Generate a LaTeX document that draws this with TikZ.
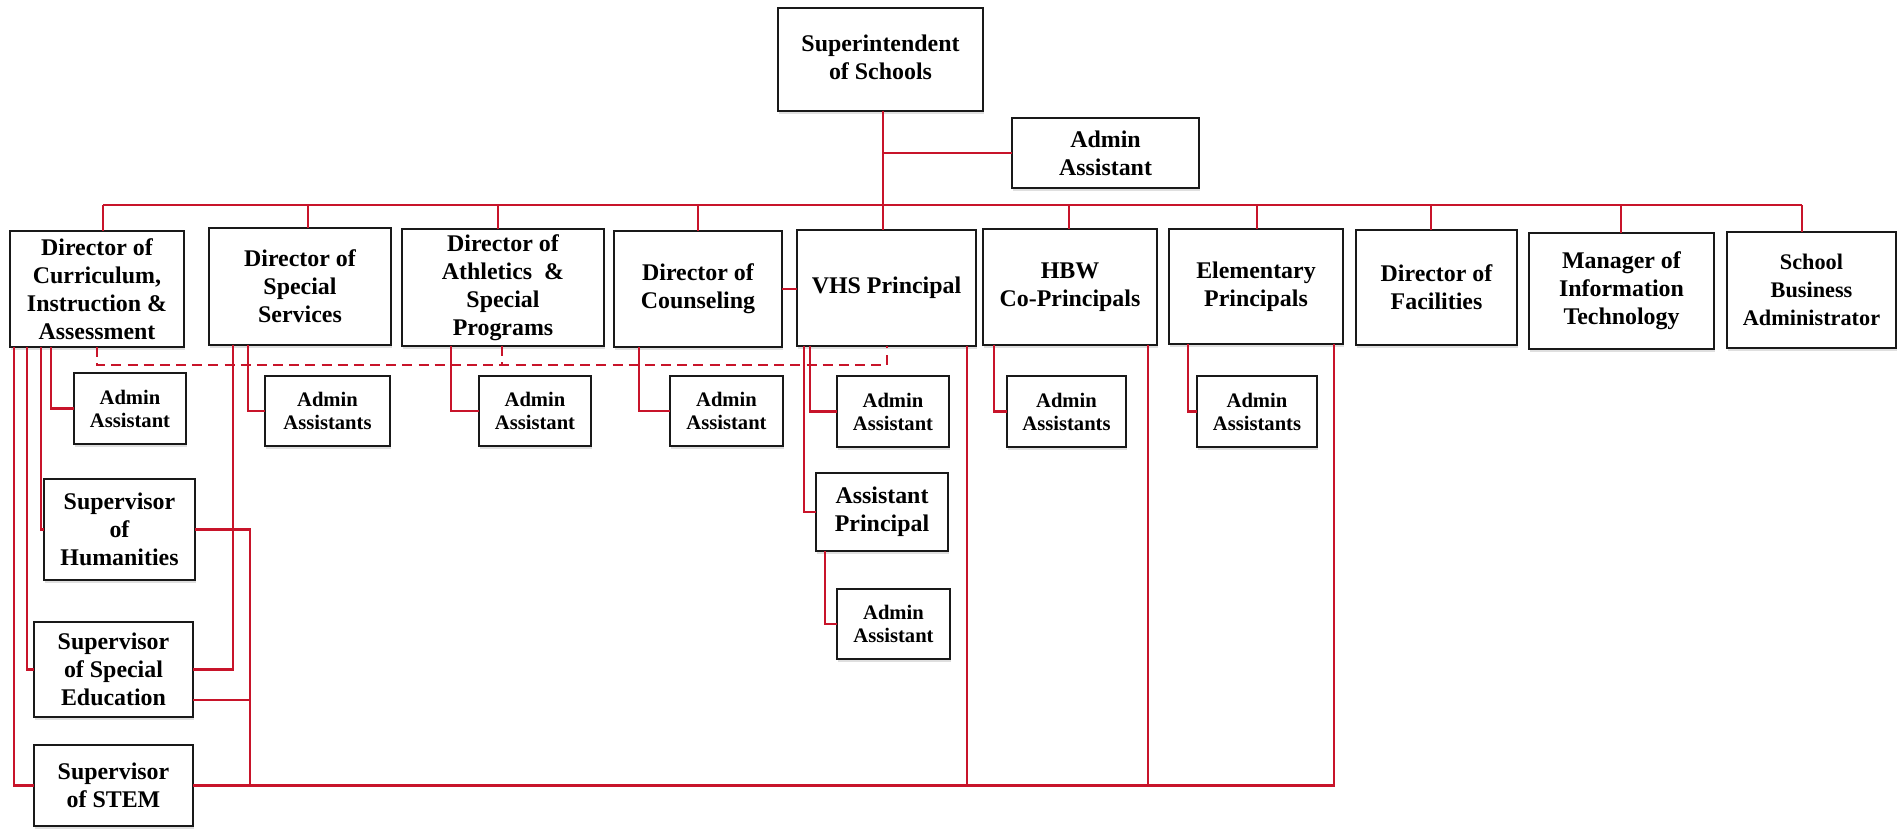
\documentclass[tikz,border=0pt]{standalone}
\usepackage{fontspec}
\setmainfont{Liberation Serif}
\usetikzlibrary{shadows}

\definecolor{orgred}{RGB}{200,20,42}

% box from its top-left corner (#3,#4) to its bottom-right corner (#5,#6)
\newcommand{\orgbox}[7]{%
  \node[#1, anchor=north west,
        minimum width={(#5-#3)*0.015cm},
        minimum height={(#6-#4)*0.015cm}] (#2) at (#3,#4) {#7};}

\tikzset{
  box/.style={draw=black!90, line width=1.1pt, fill=white, align=center,
    inner sep=1pt, outer sep=0pt,
    font=\bfseries\fontsize{10.2}{12}\selectfont,
    drop shadow={opacity=0.25, shadow xshift=0.4pt, shadow yshift=-1.1pt}},
  adminbox/.style={box, font=\bfseries\fontsize{8.8}{9.8}\selectfont},
  link/.style={draw=orgred, line width=1pt},
  duty/.style={link, dash pattern=on 4.3pt off 2.6pt},
}

\begin{document}
\begin{tikzpicture}[x=0.015cm, y=-0.015cm]
\useasboundingbox (0,0) rectangle (1898,828);

% --- top ---
\orgbox{box}{sup}{778}{8}{983}{111}{\raisebox{3pt}{\begin{tabular}{@{}c@{}}Superintendent\\of Schools\end{tabular}}}
\orgbox{box}{topadm}{1012}{118}{1199}{188}{Admin\\Assistant}

% --- directors and principals ---
\orgbox{box}{dcia}{10}{231}{184}{347}{Director of\\Curriculum,\\Instruction \&\\Assessment}
\orgbox{box}{specserv}{209}{228}{391}{345}{Director of\\Special\\Services}
\orgbox{box}{athl}{402}{229}{604}{346}{Director of\\Athletics\ \ \&\\Special\\Programs}
\orgbox{box}{couns}{614}{231}{782}{347}{Director of\\Counseling}
\orgbox{box}{vhs}{797}{230}{976}{346}{VHS Principal}
\orgbox{box}{hbw}{983}{229}{1157}{345}{HBW\\Co-Principals}
\orgbox{box}{elem}{1169}{229}{1343}{344}{Elementary\\Principals}
\orgbox{box}{facil}{1356}{230}{1517}{345}{Director of\\Facilities}
\orgbox{box}{mit}{1529}{233}{1714}{349}{Manager of\\Information\\Technology}
\orgbox{box, font=\bfseries\fontsize{9.5}{12}\selectfont}{sba}{1727}{232}{1896}{348}{School\\Business\\Administrator}

% --- assistants ---
\orgbox{adminbox}{dciaadm}{74}{373}{186}{444}{Admin\\Assistant}
\orgbox{adminbox}{ssadm}{265}{376}{390}{446}{Admin\\Assistants}
\orgbox{adminbox}{athadm}{479}{376}{591}{446}{Admin\\Assistant}
\orgbox{adminbox}{counsadm}{670}{376}{783}{446}{Admin\\Assistant}
\orgbox{adminbox}{vhsadm}{837}{376}{949}{447}{Admin\\Assistant}
\orgbox{adminbox}{hbwadm}{1007}{376}{1126}{447}{Admin\\Assistants}
\orgbox{adminbox}{elemadm}{1197}{376}{1317}{447}{Admin\\Assistants}
\orgbox{box}{ap}{816}{473}{948}{551}{Assistant\\Principal}
\orgbox{adminbox}{apadm}{837}{589}{950}{659}{Admin\\Assistant}

% --- supervisors ---
\orgbox{box}{hum}{44}{479}{195}{580}{Supervisor\\of\\Humanities}
\orgbox{box}{sped}{34}{622}{193}{717}{Supervisor\\of Special\\Education}
\orgbox{box}{stem}{34}{745}{193}{826}{Supervisor\\of STEM}

% --- superintendent line and bus ---
\coordinate (busL) at (103,205);
\coordinate (busR) at (1802,205);
\draw[link] (883,0 |- sup.south) -- (883,0 |- vhs.north);
\draw[link] (883,0 |- topadm.west) -- (topadm.west);
\draw[link] (busL) -- (busR);
\foreach \sx/\nd in {103/dcia, 308/specserv, 498/athl, 698/couns, 1069/hbw,
                     1257/elem, 1431/facil, 1621/mit, 1802/sba}
  \draw[link] (\sx,0 |- busL) -- (\sx,0 |- \nd.north);

% --- curriculum branch ---
\draw[link] (14,0 |- dcia.south) |- (stem.west);
\draw[link] (27,0 |- dcia.south) |- (sped.west);
\draw[link] (41,0 |- dcia.south) |- (hum.west);
\draw[link] (51,0 |- dcia.south) |- (dciaadm.west);

% --- special services branch ---
\draw[link] (233,0 |- specserv.south) |- (sped.east);
\draw[link] (248,0 |- specserv.south) |- (ssadm.west);

% --- supervisors to the principals ---
\draw[link] (hum.east) -| (250,0 |- stem.east);
\draw[link] ([yshift=-0.46cm]sped.east) coordinate (spedlow) -- (250,0 |- spedlow);
\draw[link] (stem.east) -- (1334,0 |- stem.east) -- (1334,0 |- elem.south);
\draw[link] (967,0 |- vhs.south) -- (967,0 |- stem.east);
\draw[link] (1148,0 |- hbw.south) -- (1148,0 |- stem.east);

% --- remaining assistants ---
\draw[link] (451,0 |- athl.south) |- (athadm.west);
\draw[link] (639,0 |- couns.south) |- (counsadm.west);
\draw[link] (couns.east) -- (couns.east -| vhs.west);
\draw[link] (810,0 |- vhs.south) |- (vhsadm.west);
\draw[link] (804,0 |- vhs.south) |- (ap.west);
\draw[link] (825,0 |- ap.south) |- (apadm.west);
\draw[link] (994,0 |- hbw.south) |- (hbwadm.west);
\draw[link] (1188,0 |- elem.south) |- (elemadm.west);

% --- dashed coordination line ---
\coordinate (dutyR) at (887,365);
\draw[duty] (97,0 |- dcia.south) |- (dutyR) -- (dutyR |- vhs.south);
\draw[duty] (502,0 |- athl.south) -- (502,0 |- dutyR);
\end{tikzpicture}
\end{document}
